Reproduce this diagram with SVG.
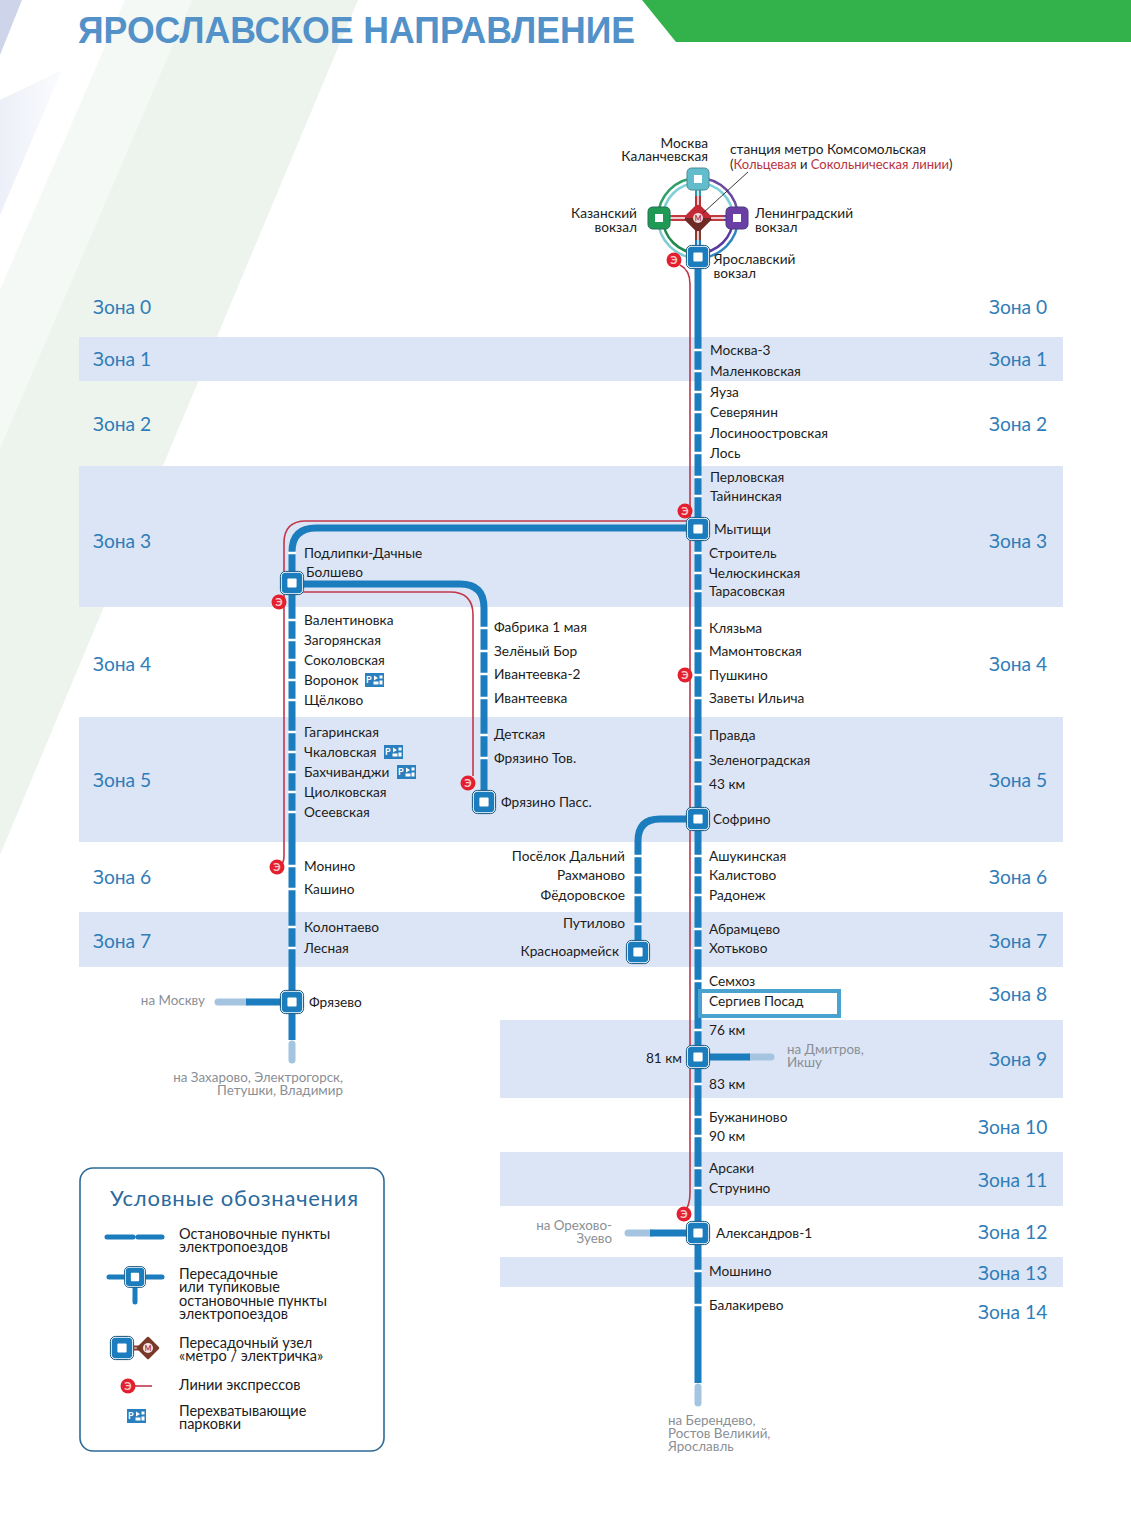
<svg xmlns="http://www.w3.org/2000/svg" xmlns:xlink="http://www.w3.org/1999/xlink" width="1131" height="1525" viewBox="0 0 1131 1525">
<style>
text{font-family:"Lato","Open Sans","Noto Sans",sans-serif;font-size:13.7px;fill:#1c1c1c}
.z{font-size:19.2px;fill:#2f7db8}
.g{fill:#8a8f96;font-size:13.4px}
.lg{font-size:14.5px}
.band{fill:#dce5f5}
.bl{fill:none;stroke:#1b7dbd;stroke-width:7}
.lt{fill:none;stroke:#a4c4e0;stroke-width:7;stroke-linecap:round}
.rd{fill:none;stroke:#c1374a;stroke-width:1.6}
.tick{stroke:#fff;stroke-width:2.4}
.e{fill:#e3202f}
.et{font-size:11px;font-weight:700;fill:#f8c8c8;text-anchor:middle}
.pb{fill:#2a7fbe}
.pt{font-size:9px;font-weight:700;fill:#fff}
.sp{fill:none;stroke-width:6}
.w{fill:none;stroke:#fff;stroke-width:1.5}
.ar{fill:none;stroke-width:2.5}
.box{stroke-width:1}
</style>
<defs>
<g id="st"><rect x="-11" y="-11" width="22" height="22" rx="4.5" fill="#1b7dbd" stroke="#fff" stroke-width="1.6"/><rect x="-11.6" y="-11.6" width="23.2" height="23.2" rx="5" fill="none" stroke="#16557f" stroke-width="1"/><rect x="-4.6" y="-4.6" width="9.2" height="9.2" rx="1" fill="#fff"/></g>
<g id="ex"><circle r="7.5" class="e"/><text y="3.8" class="et">Э</text></g>
<g id="pk"><rect x="0" y="0" width="19" height="14" class="pb"/><text x="1" y="10" class="pt">P</text><path d="M9 2.5l4 2.5-4 2.5z M14.5 2.5h3v3h-3z M14.5 7.5h3v4h-3z M8.5 8.5h5v3h-5z" fill="#fff"/></g>
<linearGradient id="fade" x1="0" y1="0" x2="1" y2="0"><stop offset="0" stop-color="#eceff8"/><stop offset="1" stop-color="#fbfcfe"/></linearGradient>
</defs>
<rect width="1131" height="1525" fill="#fff"/>
<g id="background">
<polygon points="62,70 0,215 0,100" fill="url(#fade)"/>
<polygon points="125,0 192,0 0,448 0,290" fill="#f5f9f5"/>
<polygon points="192,0 358,0 0,855 0,448" fill="#edf4ee"/>
<polygon points="0,0 22,0 0,55" fill="#ced4ea"/>
<polygon points="642,0 1131,0 1131,42 676,42" fill="#33b24c"/>
</g>
<g id="title"><text x="78" y="43" textLength="557" lengthAdjust="spacingAndGlyphs" style="font-size:37px;font-weight:700;fill:#5391c9;font-family:'Liberation Sans',sans-serif">ЯРОСЛАВСКОЕ НАПРАВЛЕНИЕ</text></g>
<g id="zones">
<rect class="band" x="79" y="337" width="984" height="44"/>
<rect class="band" x="79" y="466" width="984" height="141"/>
<rect class="band" x="79" y="717" width="984" height="125"/>
<rect class="band" x="79" y="912" width="984" height="55"/>
<rect class="band" x="500" y="1020" width="563" height="78"/>
<rect class="band" x="500" y="1152" width="563" height="54"/>
<rect class="band" x="500" y="1257" width="563" height="30"/>
<text class="z" x="93" y="314">Зона 0</text><text class="z" x="989" y="314">Зона 0</text>
<text class="z" x="93" y="366">Зона 1</text><text class="z" x="989" y="366">Зона 1</text>
<text class="z" x="93" y="431">Зона 2</text><text class="z" x="989" y="431">Зона 2</text>
<text class="z" x="93" y="548">Зона 3</text><text class="z" x="989" y="548">Зона 3</text>
<text class="z" x="93" y="671">Зона 4</text><text class="z" x="989" y="671">Зона 4</text>
<text class="z" x="93" y="787">Зона 5</text><text class="z" x="989" y="787">Зона 5</text>
<text class="z" x="93" y="884">Зона 6</text><text class="z" x="989" y="884">Зона 6</text>
<text class="z" x="93" y="948">Зона 7</text><text class="z" x="989" y="948">Зона 7</text>
<text class="z" x="989" y="1001">Зона 8</text>
<text class="z" x="989" y="1066">Зона 9</text>
<text class="z" x="978" y="1134">Зона 10</text>
<text class="z" x="978" y="1187">Зона 11</text>
<text class="z" x="978" y="1239">Зона 12</text>
<text class="z" x="978" y="1280">Зона 13</text>
<text class="z" x="978" y="1319">Зона 14</text>
</g>
<g id="connectors">
<path class="rd" d="M680 265Q690 270 690 284V1193Q690 1206 684 1212"/>
<path class="rd" d="M690 521H306Q284 521 284 543V856Q284 864 279 867"/>
<path class="rd" d="M300 592H450Q473 592 473 615V776"/>
<path class="bl" d="M698 258V1383"/>
<path class="lt" d="M698 1387V1403"/>
<path class="bl" d="M698 528H316Q292 528 292 552V1040"/>
<path class="lt" d="M292 1044V1060"/>
<path class="bl" d="M292 584H460Q484 584 484 608V800"/>
<path class="bl" d="M698 819H660Q638 819 638 841V950"/>
<path class="lt" d="M218 1002H246"/>
<path class="bl" d="M246 1002H292"/>
<path class="lt" d="M750 1057H771"/>
<path class="bl" d="M698 1057H750"/>
<path class="lt" d="M628 1233H652"/>
<path class="bl" d="M650 1233H698"/>
<g id="ticks">
<path class="tick" d="M694 350h8M694 371h8M694 392h8M694 412h8M694 433h8M694 453h8M694 477h8M694 496h8M694 553h8M694 573h8M694 591h8M694 628h8M694 651h8M694 675h8M694 698h8M694 735h8M694 760h8M694 784h8M694 856h8M694 875h8M694 895h8M694 929h8M694 948h8M694 981h8M694 1030h8M694 1084h8M694 1117h8M694 1136h8M694 1168h8M694 1188h8M694 1271h8M694 1305h8"/>
<path class="tick" d="M288 553h8M288 620h8M288 640h8M288 660h8M288 680h8M288 700h8M288 732h8M288 752h8M288 772h8M288 792h8M288 812h8M288 866h8M288 889h8M288 927h8M288 948h8"/>
<path class="tick" d="M480 628h8M480 651h8M480 674h8M480 698h8M480 735h8M480 758h8"/>
<path class="tick" d="M634 856h8M634 875h8M634 895h8M634 924h8"/>
</g>
</g>
<g id="hub">
<path class="ar" d="M698 178A40 40 0 0 0 658 218" stroke="#2f9f6a"/>
<path class="ar" d="M698 178A40 40 0 0 1 738 218" stroke="#6a4aa0"/>
<path class="ar" d="M658 218A40 40 0 0 0 698 258" stroke="#7fc9d0"/>
<path class="ar" d="M738 218A40 40 0 0 1 698 258" stroke="#2f86c5"/>
<path class="ar" d="M698 183A35 35 0 0 0 663 218" stroke="#7fd0d8"/>
<path class="ar" d="M698 183A35 35 0 0 1 733 218" stroke="#7fd0d8"/>
<path class="ar" d="M663 218A35 35 0 0 0 698 253" stroke="#1f8a4a"/>
<path class="ar" d="M733 218A35 35 0 0 1 698 253" stroke="#5a3aa0"/>
<path class="sp" d="M698 179V196" stroke="#2f9aa8"/><path class="sp" d="M698 196V218" stroke="#b8323a"/>
<path class="sp" d="M698 240V257" stroke="#1b7dbd"/><path class="sp" d="M698 218V240" stroke="#8a3a30"/>
<path class="sp" d="M659 218H672" stroke="#1f9a55"/><path class="sp" d="M672 218H698" stroke="#c23a40"/>
<path class="sp" d="M724 218H737" stroke="#6a3fa5"/><path class="sp" d="M698 218H724" stroke="#c23a40"/>
<path d="M698 203L713 218L698 233L683 218Z" fill="#c22b35"/>
<path d="M683 218L698 233L713 218Z" fill="#6e2a24"/>
<path class="w" d="M698 182V205M698 231V254M662 218H685M711 218H734"/>
<circle cx="698" cy="218" r="5" fill="#f4d9d9"/><text x="698" y="220.500" text-anchor="middle" style="font-size:7px;font-weight:700;fill:#b02a30">М</text>
<g transform="translate(698,179)"><rect class="box" x="-11" y="-11" width="22" height="22" rx="4.5" fill="#62bccb" stroke="#4a8a96"/><rect x="-4" y="-4" width="8" height="8" fill="#fff"/></g>
<g transform="translate(659,218)"><rect class="box" x="-11" y="-11" width="22" height="22" rx="4.5" fill="#1f9a55" stroke="#2a6a55"/><rect x="-4" y="-4" width="8" height="8" fill="#fff"/></g>
<g transform="translate(737,218)"><rect class="box" x="-11" y="-11" width="22" height="22" rx="4.5" fill="#6a3fa5" stroke="#4a3a7a"/><rect x="-4" y="-4" width="8" height="8" fill="#fff"/></g>
<use xlink:href="#st" href="#st" x="698" y="257"/>
<line x1="703" y1="213" x2="748" y2="172" stroke="#222" stroke-width=".9"/>
<text x="708" y="148" text-anchor="end">Москва</text><text x="708" y="161" text-anchor="end">Каланчевская</text>
<text x="730" y="154">станция метро Комсомольская</text>
<text x="730" y="169" style="font-size:13px">(<tspan fill="#b7323e">Кольцевая</tspan> и <tspan fill="#b7323e">Сокольническая линии</tspan>)</text>
<text x="637" y="218" text-anchor="end">Казанский</text><text x="637" y="232" text-anchor="end">вокзал</text>
<text x="755" y="218">Ленинградский</text><text x="755" y="232">вокзал</text>
<text x="713.500" y="264">Ярославский</text><text x="713.500" y="278">вокзал</text>
</g>
<g id="main-labels">
<text x="710" y="355">Москва-3</text><text x="710" y="376">Маленковская</text><text x="710" y="397">Яуза</text><text x="710" y="417">Северянин</text><text x="710" y="438">Лосиноостровская</text><text x="710" y="458">Лось</text><text x="710" y="482">Перловская</text><text x="710" y="501">Тайнинская</text>
<text x="714" y="534">Мытищи</text>
<text x="709" y="558">Строитель</text><text x="709" y="578">Челюскинская</text><text x="709" y="596">Тарасовская</text><text x="709" y="633">Клязьма</text><text x="709" y="656">Мамонтовская</text><text x="709" y="680">Пушкино</text><text x="709" y="703">Заветы Ильича</text><text x="709" y="740">Правда</text><text x="709" y="765">Зеленоградская</text><text x="709" y="789">43 км</text>
<text x="713" y="824">Софрино</text>
<text x="709" y="861">Ашукинская</text><text x="709" y="880">Калистово</text><text x="709" y="900">Радонеж</text><text x="709" y="934">Абрамцево</text><text x="709" y="953">Хотьково</text><text x="709" y="986">Семхоз</text>
<rect x="700" y="991" width="139" height="25" fill="none" stroke="#4aa3cf" stroke-width="4"/>
<text x="709" y="1006">Сергиев Посад</text>
<text x="709" y="1035">76 км</text>
<text x="682" y="1063" text-anchor="end">81 км</text>
<text x="709" y="1089">83 км</text><text x="709" y="1122">Бужаниново</text><text x="709" y="1141">90 км</text><text x="709" y="1173">Арсаки</text><text x="709" y="1193">Струнино</text>
<text x="716" y="1238">Александров-1</text><text x="709" y="1276">Мошнино</text><text x="709" y="1310">Балакирево</text>
<text class="g" x="787" y="1054">на Дмитров,</text><text class="g" x="787" y="1067">Икшу</text>
<text class="g" x="612" y="1230" text-anchor="end">на Орехово-</text><text class="g" x="612" y="1243" text-anchor="end">Зуево</text>
<text class="g" x="668" y="1425">на Берендево,</text><text class="g" x="668" y="1438">Ростов Великий,</text><text class="g" x="668" y="1451">Ярославль</text>
</g>
<g id="left-labels">
<text x="304" y="558">Подлипки-Дачные</text><text x="306" y="577">Болшево</text>
<text x="304" y="625">Валентиновка</text><text x="304" y="645">Загорянская</text><text x="304" y="665">Соколовская</text><text x="304" y="685">Воронок</text><text x="304" y="705">Щёлково</text>
<text x="304" y="737">Гагаринская</text><text x="304" y="757">Чкаловская</text><text x="304" y="777">Бахчиванджи</text><text x="304" y="797">Циолковская</text><text x="304" y="817">Осеевская</text>
<text x="304" y="871">Монино</text><text x="304" y="894">Кашино</text><text x="304" y="932">Колонтаево</text><text x="304" y="953">Лесная</text>
<text x="309" y="1007">Фрязево</text>
<text class="g" x="205" y="1005" text-anchor="end">на Москву</text>
<text class="g" x="343" y="1082" text-anchor="end">на Захарово, Электрогорск,</text><text class="g" x="343" y="1095" text-anchor="end">Петушки, Владимир</text>
<use xlink:href="#pk" href="#pk" x="365" y="673"/><use xlink:href="#pk" href="#pk" x="384" y="745"/><use xlink:href="#pk" href="#pk" x="397" y="765"/>
<text x="494" y="632">Фабрика 1 мая</text><text x="494" y="656">Зелёный Бор</text><text x="494" y="679">Ивантеевка-2</text><text x="494" y="703">Ивантеевка</text><text x="494" y="739">Детская</text><text x="494" y="763">Фрязино Тов.</text><text x="501" y="807">Фрязино Пасс.</text>
<text x="625" y="861" text-anchor="end">Посёлок Дальний</text><text x="625" y="880" text-anchor="end">Рахманово</text><text x="625" y="900" text-anchor="end">Фёдоровское</text><text x="625" y="928" text-anchor="end">Путилово</text><text x="619" y="956" text-anchor="end">Красноармейск</text>
</g>
<g id="stations">
<g id="n-mytishchi"><use xlink:href="#st" href="#st" x="698" y="529"/></g>
<g id="n-sofrino"><use xlink:href="#st" href="#st" x="698" y="819"/></g>
<g id="n-81"><use xlink:href="#st" href="#st" x="698" y="1057"/></g>
<g id="n-alex"><use xlink:href="#st" href="#st" x="698" y="1233"/></g>
<g id="n-bolshevo"><use xlink:href="#st" href="#st" x="292" y="583"/></g>
<g id="n-fryazino"><use xlink:href="#st" href="#st" x="484" y="802"/></g>
<g id="n-krasno"><use xlink:href="#st" href="#st" x="638" y="952"/></g>
<g id="n-fryazevo"><use xlink:href="#st" href="#st" x="292" y="1002"/></g>
</g>
<g id="express">
<use xlink:href="#ex" href="#ex" x="674" y="260"/><use xlink:href="#ex" href="#ex" x="685" y="511"/><use xlink:href="#ex" href="#ex" x="685" y="675"/><use xlink:href="#ex" href="#ex" x="684" y="1214"/><use xlink:href="#ex" href="#ex" x="279" y="602"/><use xlink:href="#ex" href="#ex" x="277" y="867"/><use xlink:href="#ex" href="#ex" x="468" y="783"/>
</g>
<g id="legend">
<rect x="80" y="1168" width="304" height="283" rx="13" fill="#fff" stroke="#2d6a96" stroke-width="1.6"/>
<text x="110" y="1206" style="font-size:22px;fill:#2a6a9c" textLength="248">Условные обозначения</text>
<path d="M107 1237H133M138 1237H162" stroke="#1b7dbd" stroke-width="5" stroke-linecap="round"/>
<text class="lg" x="179" y="1239">Остановочные пункты</text><text class="lg" x="179" y="1252">электропоездов</text>
<path d="M109 1277H162M135 1277V1302" stroke="#1b7dbd" stroke-width="5" stroke-linecap="round"/>
<use xlink:href="#st" href="#st" transform="translate(135,1277) scale(.9)"/>
<text class="lg" x="179" y="1279">Пересадочные</text><text class="lg" x="179" y="1292">или тупиковые</text><text class="lg" x="179" y="1306">остановочные пункты</text><text class="lg" x="179" y="1319">электропоездов</text>
<path d="M122 1348H148" stroke="#8c3a30" stroke-width="5"/><path d="M128 1348H148" stroke="#f0d0d0" stroke-width="1.2"/>
<use xlink:href="#st" href="#st" x="122" y="1348"/>
<path d="M148 1338L158 1348L148 1358L138 1348Z" fill="#7a3a2a" stroke="#7a3a2a" stroke-width="2.500" stroke-linejoin="round"/><circle cx="148" cy="1348" r="5" fill="#f4e4e0"/><text x="148" y="1351" text-anchor="middle" style="font-size:7px;font-weight:700;fill:#b02a30">М</text>
<text class="lg" x="179" y="1348">Пересадочный узел</text><text class="lg" x="179" y="1361">«метро / электричка»</text>
<path d="M128 1386H152" class="rd"/><use xlink:href="#ex" href="#ex" x="128" y="1386"/>
<text class="lg" x="179" y="1390">Линии экспрессов</text>
<use xlink:href="#pk" href="#pk" x="127" y="1409"/>
<text class="lg" x="179" y="1416">Перехватывающие</text><text class="lg" x="179" y="1429">парковки</text>
</g>
</svg>
